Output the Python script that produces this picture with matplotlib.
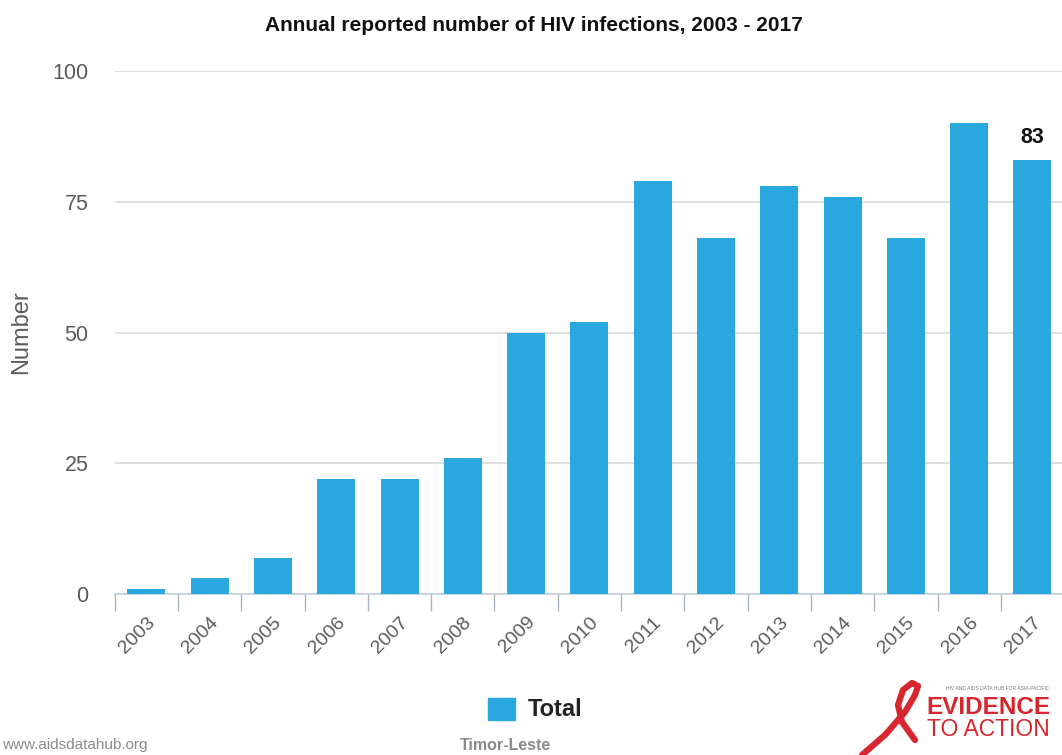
import matplotlib.pyplot as plt
import numpy as np

plt.rcParams['font.family'] = ['Liberation Sans', 'DejaVu Sans']

years = ['2003', '2004', '2005', '2006', '2007', '2008', '2009', '2010',
         '2011', '2012', '2013', '2014', '2015', '2016', '2017']
total = [1, 3, 7, 22, 22, 26, 50, 52, 79, 68, 78, 76, 68, 90, 83]
yticks = [0, 25, 50, 75, 100]

blue = '#29A8DF'
grey = '#5E5A58'

fig = plt.figure(figsize=(10.62, 7.55), dpi=100)
ax = fig.add_axes([0.108, 0.213, 0.894, 0.693])

x = np.arange(len(years))
ax.bar(x, total, width=0.6, color=blue, zorder=3)
ax.set_xlim(-0.5, len(years) - 0.5)
ax.set_ylim(0, 100)
ax.set_yticks(yticks)
ax.set_yticklabels([str(v) for v in yticks], fontsize=15.5, color=grey)
ax.yaxis.grid(True, color='#D8D8D8', linewidth=1.2, zorder=0)
ax.tick_params(axis='y', length=0, pad=19)

# category boundary ticks on the x axis
ax.set_xticks(x)
ax.set_xticklabels(years, rotation=45, ha='right', rotation_mode='anchor',
                   fontsize=14, color=grey)
ax.tick_params(axis='x', length=0, pad=14)
ax.set_xticks(np.arange(-0.5, len(years), 1), minor=True)
ax.tick_params(axis='x', which='minor', length=12, color='#A8B4C0', width=1)

for s in ['top', 'right', 'left']:
    ax.spines[s].set_visible(False)
ax.spines['bottom'].set_color('#C0D0E0')
ax.spines['bottom'].set_linewidth(1.2)

ax.set_ylabel('Number', fontsize=17, color=grey)
ax.yaxis.set_label_coords(-0.087, 0.5)

# value label on last bar
ax.text(x[-1], total[-1] + 2.3, str(total[-1]), ha='center', va='bottom',
        fontsize=15.5, fontweight='bold', color='#111111')

fig.text(0.503, 0.966, 'Annual reported number of HIV infections, 2003 - 2017',
         ha='center', va='center', fontsize=15, fontweight='bold', color='#111111')

# legend
fig.patches.append(plt.Rectangle((488 / 1062, 1 - 720 / 755), 27 / 1062, 22 / 755,
                                 transform=fig.transFigure, color=blue))
fig.text(528 / 1062, 1 - 710 / 755, 'Total', ha='left', va='center',
         fontsize=17, fontweight='bold', color='#222222')

fig.text(0.002, 1 - 745 / 755, 'www.aidsdatahub.org', ha='left', va='center',
         fontsize=11, color='#8A8A8A')
fig.text(460 / 1062, 1 - 745 / 755, 'Timor-Leste', ha='left', va='center',
         fontsize=11.5, fontweight='bold', color='#8A8A8A')

# logo
red = '#D7262E'
fig.add_artist(plt.Line2D(np.r_[862, 885, 905, 915, 918, 912, 903, 898, 902, 915] / 1062,
                          1 - np.r_[755, 735, 712, 695, 686, 683, 690, 705, 722, 740] / 755,
                          color=red, linewidth=4.5, solid_capstyle='round',
                          solid_joinstyle='round'))
fig.text(1050 / 1062, 1 - 688 / 755, 'HIV AND AIDS DATA HUB FOR ASIA-PACIFIC',
         ha='right', va='center', fontsize=3.6, color='#777777')
fig.text(1050 / 1062, 1 - 708 / 755, 'EVIDENCE', ha='right', va='center',
         fontsize=17.5, fontweight='bold', color=red)
fig.text(1050 / 1062, 1 - 730 / 755, 'TO ACTION', ha='right', va='center',
         fontsize=16.5, fontweight='light', color=red)

fig.savefig('out.png', dpi=100)
